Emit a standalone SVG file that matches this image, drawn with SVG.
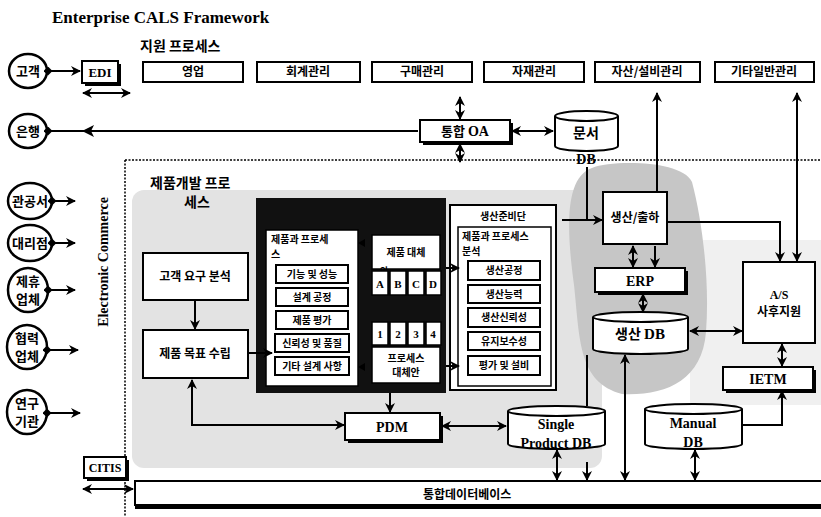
<svg xmlns="http://www.w3.org/2000/svg" width="821" height="517" viewBox="0 0 821 517">
<style>
.ko{font-family:"Noto Sans CJK KR","Noto Sans",sans-serif;font-weight:700;fill:#000}
.lat{font-family:"Liberation Serif","Noto Serif",serif;font-weight:700;fill:#000}
.bx{fill:#fff;stroke:#000;stroke-width:2}
.bx1{fill:#fff;stroke:#000;stroke-width:1.5}
.sh{fill:#000}
.ln{stroke:#000;stroke-width:2;fill:none}
.c{text-anchor:middle}
.circ{fill:#fff;stroke:#000;stroke-width:2.5}
</style>
<defs>
<marker id="ah" viewBox="0 0 10 10" refX="9" refY="5" markerWidth="10" markerHeight="10" markerUnits="userSpaceOnUse" orient="auto-start-reverse"><path d="M0,0 L10,5 L0,10 L3,5 z" fill="#000"/></marker>
<marker id="dm" viewBox="0 0 10 10" refX="5" refY="5" markerWidth="9" markerHeight="9" markerUnits="userSpaceOnUse" orient="auto"><path d="M0,5 L5,0 L10,5 L5,10 z" fill="#000"/></marker>
</defs>
<rect width="821" height="517" fill="#fff"/>

<g id="shading">
<rect x="132" y="190" width="470" height="278" rx="12" fill="#e3e3e3"/>
<rect x="690" y="240" width="131" height="165" fill="#f0f0f0"/>
<path d="M592,168 C562,178 568,240 574,285 C580,340 578,382 622,394 C664,396 702,382 706,332 C710,280 702,220 692,182 C682,160 612,160 592,168 z" fill="#c6c6c6"/>
</g>

<g id="frame">
<line x1="125" y1="160" x2="821" y2="160" stroke="#000" stroke-width="1.5" stroke-dasharray="2,1.5"/>
<line x1="125" y1="160" x2="125" y2="517" stroke="#000" stroke-width="1.5" stroke-dasharray="2,1.5"/>
</g>

<g id="title"><text class="lat" x="52" y="23" font-size="17" font-weight="900">Enterprise CALS Framework</text></g>
<g id="support-title"><text class="ko" x="140" y="51" font-size="14">지원 프로세스</text></g>
<g id="ec-label"><text class="lat c" transform="translate(108,262) rotate(-90)" font-size="14">Electronic Commerce</text></g>

<g id="n-customer"><ellipse class="circ" cx="28" cy="71" rx="19" ry="17"/><text class="ko c" x="28" y="76" font-size="13">고객</text></g>
<g id="n-bank"><ellipse class="circ" cx="28" cy="131" rx="19" ry="17"/><text class="ko c" x="28" y="136" font-size="13">은행</text></g>
<g id="n-gov"><ellipse class="circ" cx="30" cy="201" rx="22" ry="18"/><text class="ko c" x="30" y="206" font-size="13">관공서</text></g>
<g id="n-agency"><ellipse class="circ" cx="30" cy="243" rx="22" ry="18"/><text class="ko c" x="30" y="248" font-size="13">대리점</text></g>
<g id="n-partner"><ellipse class="circ" cx="28" cy="290" rx="20" ry="22"/><text class="ko c" x="28" y="286" font-size="13">제휴</text><text class="ko c" x="28" y="304" font-size="13">업체</text></g>
<g id="n-coop"><ellipse class="circ" cx="27" cy="347" rx="20" ry="22"/><text class="ko c" x="27" y="343" font-size="13">협력</text><text class="ko c" x="27" y="361" font-size="13">업체</text></g>
<g id="n-research"><ellipse class="circ" cx="27" cy="412" rx="20" ry="22"/><text class="ko c" x="27" y="408" font-size="13">연구</text><text class="ko c" x="27" y="426" font-size="13">기관</text></g>

<g id="n-edi"><rect class="sh" x="85" y="64" width="36" height="22"/><rect class="bx" x="82" y="61" width="36" height="22"/><text class="lat c" x="100" y="77" font-size="13">EDI</text></g>
<g id="n-citis"><rect class="sh" x="87" y="460" width="42" height="21"/><rect class="bx" x="84" y="457" width="42" height="21"/><text class="lat c" x="105" y="472" font-size="12">CITIS</text></g>

<g id="n-sales"><rect class="bx" x="143" y="62" width="100" height="20"/><text class="ko c" x="193" y="76" font-size="12">영업</text></g>
<g id="n-acct"><rect class="bx" x="257" y="62" width="103" height="20"/><text class="ko c" x="308" y="76" font-size="12">회계관리</text></g>
<g id="n-purch"><rect class="bx" x="372" y="62" width="100" height="20"/><text class="ko c" x="422" y="76" font-size="12">구매관리</text></g>
<g id="n-mat"><rect class="bx" x="484" y="62" width="100" height="20"/><text class="ko c" x="534" y="76" font-size="12">자재관리</text></g>
<g id="n-asset"><rect class="bx" x="595" y="62" width="105" height="20"/><text class="ko c" x="647" y="76" font-size="12">자산/설비관리</text></g>
<g id="n-etc"><rect class="bx" x="715" y="62" width="99" height="20"/><text class="ko c" x="764" y="76" font-size="12">기타일반관리</text></g>

<g id="n-oa"><rect class="sh" x="423" y="123" width="90" height="22"/><rect class="bx" x="420" y="120" width="90" height="22"/><text class="ko c" x="465" y="136" font-size="13">통합 <tspan class="lat" font-size="14">OA</tspan></text></g>
<g id="n-docdb"><path class="bx" d="M555,116 A31.5,5 0 0 1 618,116 L618,146 A31.5,5 0 0 1 555,146 z"/><path class="ln" stroke-width="1" d="M555,116 A31.5,5 0 0 0 618,116"/><text class="ko c" x="586" y="138" font-size="14">문서</text><text class="lat c" x="586" y="164" font-size="14">DB</text></g>

<g id="pd-title"><text class="ko" x="150" y="188" font-size="14">제품개발 프로</text><text class="ko" x="184" y="207" font-size="14">세스</text></g>
<g id="n-req"><rect class="bx" x="143" y="253" width="105" height="47"/><text class="ko c" x="195" y="281" font-size="12">고객 요구 분석</text></g>
<g id="n-goal"><rect class="bx" x="143" y="330" width="105" height="48"/><text class="ko c" x="195" y="358" font-size="12">제품 목표 수립</text></g>

<g id="n-block">
<rect x="256" y="198" width="190" height="195" fill="#111"/>
<rect class="bx1" x="266" y="230" width="92" height="156"/>
<text class="ko" x="271" y="243" font-size="10">제품과 프로세</text>
<text class="ko" x="271" y="258" font-size="10">스</text>
<rect class="bx" x="276" y="265" width="72" height="18"/><text class="ko c" x="312" y="278" font-size="10">기능 및 성능</text>
<rect class="bx" x="276" y="288" width="72" height="18"/><text class="ko c" x="312" y="301" font-size="10">설계 공정</text>
<rect class="bx" x="276" y="311" width="72" height="18"/><text class="ko c" x="312" y="324" font-size="10">제품 평가</text>
<rect class="bx" x="275" y="334" width="74" height="18"/><text class="ko c" x="312" y="347" font-size="10">신뢰성 및 품질</text>
<rect class="bx" x="275" y="357" width="74" height="18"/><text class="ko c" x="312" y="370" font-size="10">기타 설계 사항</text>
<rect class="bx1" x="372" y="235" width="68" height="34"/><text class="ko c" x="406" y="256" font-size="10">제품 대체</text><text class="ko" x="380" y="274" font-size="9">안</text>
<rect class="bx1" x="372" y="271" width="16" height="24"/><text class="lat c" x="380" y="288" font-size="11">A</text>
<rect class="bx1" x="390" y="271" width="16" height="24"/><text class="lat c" x="398" y="288" font-size="11">B</text>
<rect class="bx1" x="408" y="271" width="16" height="24"/><text class="lat c" x="416" y="288" font-size="11">C</text>
<rect class="bx1" x="426" y="271" width="15" height="24"/><text class="lat c" x="433" y="288" font-size="11">D</text>
<rect class="bx1" x="372" y="322" width="16" height="23"/><text class="lat c" x="380" y="338" font-size="11">1</text>
<rect class="bx1" x="390" y="322" width="16" height="23"/><text class="lat c" x="398" y="338" font-size="11">2</text>
<rect class="bx1" x="408" y="322" width="16" height="23"/><text class="lat c" x="416" y="338" font-size="11">3</text>
<rect class="bx1" x="426" y="322" width="15" height="23"/><text class="lat c" x="433" y="338" font-size="11">4</text>
<rect class="bx1" x="372" y="347" width="68" height="36"/><text class="ko c" x="406" y="362" font-size="10">프로세스</text><text class="ko c" x="406" y="376" font-size="10">대체안</text>
<path d="M358,243 L365,239 L365,247 z M358,367 L365,363 L365,371 z" fill="#000"/>
</g>

<g id="n-prep">
<rect class="bx" x="450" y="205" width="106" height="185"/>
<text class="ko c" x="503" y="220" font-size="10">생산준비단</text>
<rect class="bx1" x="458" y="227" width="93" height="159"/>
<text class="ko" x="462" y="240" font-size="10">제품과 프로세스</text>
<text class="ko" x="462" y="255" font-size="10">분석</text>
<rect class="bx" x="468" y="261" width="72" height="19"/><text class="ko c" x="504" y="274" font-size="10">생산공정</text>
<rect class="bx" x="468" y="285" width="72" height="18"/><text class="ko c" x="504" y="298" font-size="10">생산능력</text>
<rect class="bx" x="468" y="308" width="72" height="19"/><text class="ko c" x="504" y="321" font-size="10">생산신뢰성</text>
<rect class="bx" x="468" y="332" width="72" height="18"/><text class="ko c" x="504" y="345" font-size="10">유지보수성</text>
<rect class="bx" x="468" y="356" width="72" height="19"/><text class="ko c" x="504" y="369" font-size="10">평가 및 설비</text>
</g>

<g id="n-ship"><rect class="bx" x="603" y="192" width="64" height="52"/><text class="ko c" x="635" y="222" font-size="12">생산/출하</text></g>
<g id="n-erp"><rect class="sh" x="598" y="271" width="90" height="24"/><rect class="bx" x="595" y="268" width="90" height="24"/><text class="lat c" x="640" y="286" font-size="14">ERP</text></g>
<g id="n-proddb"><path class="bx" d="M593,317 A47.5,5 0 0 1 688,317 L688,349 A47.5,5 0 0 1 593,349 z"/><path class="ln" stroke-width="1" d="M593,317 A47.5,5 0 0 0 688,317"/><text class="ko c" x="640" y="339" font-size="14">생산 <tspan class="lat" font-size="15">DB</tspan></text></g>
<g id="n-as"><rect class="bx" x="743" y="262" width="72" height="81"/><text class="lat c" x="779" y="299" font-size="12">A/S</text><text class="ko c" x="779" y="316" font-size="12">사후지원</text></g>
<g id="n-ietm"><rect class="sh" x="726" y="370" width="90" height="23"/><rect class="bx" x="723" y="367" width="90" height="23"/><text class="lat c" x="768" y="384" font-size="14">IETM</text></g>
<g id="n-pdm"><rect class="sh" x="348" y="416" width="95" height="27"/><rect class="bx" x="345" y="413" width="95" height="27"/><text class="lat c" x="392" y="432" font-size="14">PDM</text></g>
<g id="n-spdb"><path class="bx" d="M508,411 A48.5,5 0 0 1 605,411 L605,444 A48.5,5 0 0 1 508,444 z"/><path class="ln" stroke-width="1" d="M508,411 A48.5,5 0 0 0 605,411"/><text class="lat c" x="556" y="429" font-size="14">Single</text><text class="lat c" x="556" y="448" font-size="14">Product DB</text></g>
<g id="n-mandb"><path class="bx" d="M645,409 A48.5,5 0 0 1 742,409 L742,444 A48.5,5 0 0 1 645,444 z"/><path class="ln" stroke-width="1" d="M645,409 A48.5,5 0 0 0 742,409"/><text class="lat c" x="693" y="428" font-size="14">Manual</text><text class="lat c" x="693" y="447" font-size="14">DB</text></g>
<g id="n-idb"><rect class="sh" x="135" y="484" width="686" height="25"/><rect class="bx" x="135" y="481" width="688" height="24"/><text class="ko" x="423" y="499" font-size="12">통합데이터베이스</text></g>

<g id="connectors">
<line class="ln" x1="48" y1="71" x2="80" y2="71" marker-start="url(#dm)" marker-end="url(#ah)"/>
<line class="ln" x1="48" y1="131" x2="418" y2="131" marker-start="url(#dm)"/>
<path d="M82,131 L94,125 L91,131 L94,137 z" fill="#000"/>
<line class="ln" x1="52" y1="201" x2="75" y2="201" marker-start="url(#dm)" marker-end="url(#ah)"/>
<line class="ln" x1="52" y1="243" x2="75" y2="243" marker-start="url(#dm)" marker-end="url(#ah)"/>
<line class="ln" x1="48" y1="290" x2="75" y2="290" marker-start="url(#dm)" marker-end="url(#ah)"/>
<line class="ln" x1="47" y1="350" x2="78" y2="350" marker-start="url(#dm)" marker-end="url(#ah)"/>
<line class="ln" x1="47" y1="413" x2="80" y2="413" marker-start="url(#dm)" marker-end="url(#ah)"/>
<line class="ln" stroke-width="3" x1="83" y1="93" x2="130" y2="93" marker-start="url(#ah)" marker-end="url(#ah)"/>
<line class="ln" stroke-width="3" x1="83" y1="489" x2="133" y2="489" marker-start="url(#ah)" marker-end="url(#ah)"/>
<line class="ln" x1="460" y1="97" x2="460" y2="119" marker-start="url(#ah)" marker-end="url(#ah)"/>
<line class="ln" x1="460" y1="144" x2="460" y2="162" marker-start="url(#ah)" marker-end="url(#ah)"/>
<line class="ln" x1="512" y1="131" x2="553" y2="131" marker-start="url(#ah)" marker-end="url(#ah)"/>
<line class="ln" x1="587" y1="167" x2="587" y2="220"/>
<line class="ln" x1="562" y1="220" x2="602" y2="220" marker-end="url(#ah)"/>
<line class="ln" x1="657" y1="192" x2="657" y2="93" marker-end="url(#ah)"/>
<line class="ln" x1="797" y1="93" x2="797" y2="261" marker-start="url(#ah)" marker-end="url(#ah)"/>
<path class="ln" d="M667,222 L780,222 L780,261" marker-end="url(#ah)"/>
<line class="ln" x1="633" y1="246" x2="633" y2="267" marker-start="url(#ah)" marker-end="url(#ah)"/>
<line class="ln" x1="655" y1="246" x2="655" y2="267" marker-end="url(#ah)"/>
<line class="ln" x1="643" y1="294" x2="643" y2="312" marker-start="url(#ah)" marker-end="url(#ah)"/>
<line class="ln" x1="690" y1="331" x2="742" y2="331" marker-start="url(#ah)" marker-end="url(#ah)"/>
<line class="ln" x1="782" y1="344" x2="782" y2="366" marker-start="url(#ah)" marker-end="url(#ah)"/>
<path class="ln" d="M742,425 L782,425 L782,391" marker-end="url(#ah)"/>
<line class="ln" x1="195" y1="300" x2="195" y2="329" marker-end="url(#ah)"/>
<line class="ln" x1="248" y1="353" x2="272" y2="353" marker-end="url(#ah)"/>
<line class="ln" x1="446" y1="268" x2="459" y2="268" marker-end="url(#ah)"/>
<line class="ln" x1="446" y1="366" x2="459" y2="366" marker-end="url(#ah)"/>
<line class="ln" x1="390" y1="393" x2="390" y2="412" marker-end="url(#ah)"/>
<path class="ln" d="M192,380 L192,425 L344,425" marker-start="url(#ah)" marker-end="url(#ah)"/>
<line class="ln" x1="442" y1="426" x2="506" y2="426" marker-start="url(#ah)" marker-end="url(#ah)"/>
<line class="ln" x1="587" y1="355" x2="587" y2="406"/>
<line class="ln" x1="557" y1="450" x2="557" y2="480" marker-start="url(#ah)" marker-end="url(#ah)"/>
<line class="ln" x1="587" y1="462" x2="587" y2="480" marker-end="url(#ah)"/>
<line class="ln" x1="625" y1="355" x2="625" y2="480" marker-start="url(#ah)" marker-end="url(#ah)"/>
<line class="ln" x1="695" y1="450" x2="695" y2="480" marker-start="url(#ah)" marker-end="url(#ah)"/>
</g>
</svg>
